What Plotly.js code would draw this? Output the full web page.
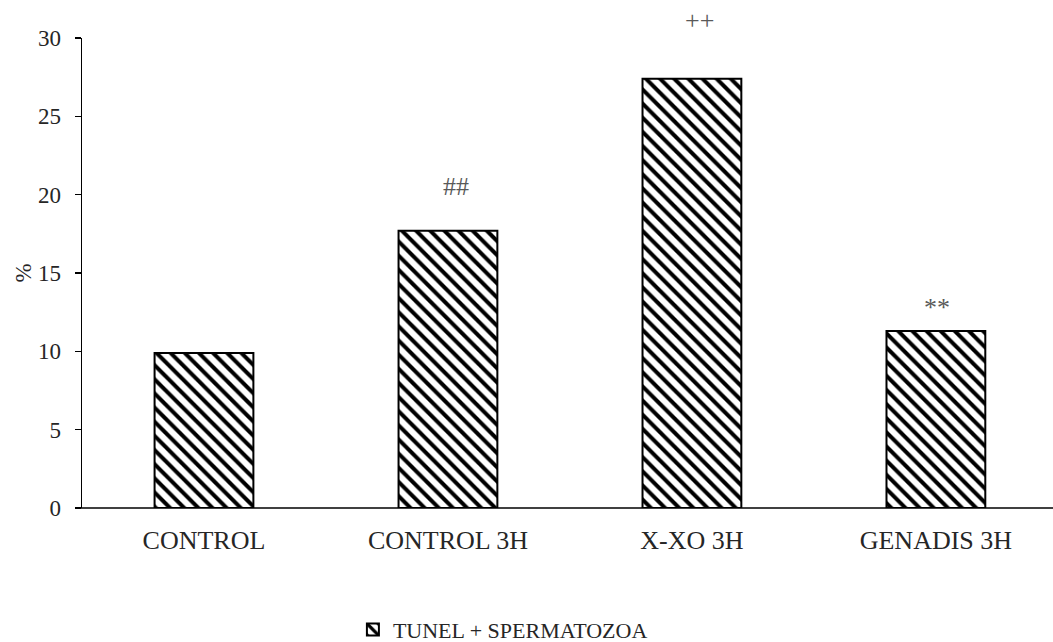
<!DOCTYPE html>
<html>
<head>
<meta charset="utf-8">
<script src="https://cdn.plot.ly/plotly-3.0.1.min.js"></script>
<style>
  html, body { margin: 0; padding: 0; background: #fff; }
  #chart { width: 1053px; height: 642px; }
</style>
</head>
<body>
<div id="chart"></div>
<script>
// Share of TUNEL-positive spermatozoa per group (%)
const groups = ["CONTROL", "CONTROL 3H", "X-XO 3H", "GENADIS 3H"];
const tunelPct = [9.9, 17.7, 27.4, 11.3];
// significance marks and the height (in %) at which each one sits
const markLabels = ["", "##", "++", "**"];
const markY = [null, 21.6, 32.2, 12.8];

const serif = "'Liberation Serif', 'DejaVu Serif', serif";
const yMax = 30;
// small horizontal nudge (px) of each mark relative to its bar
const markShift = [0, 8, 8, 1];

const trace = {
  type: "bar",
  name: "TUNEL + SPERMATOZOA",
  x: groups,
  y: tunelPct,
  width: 0.405,
  marker: {
    color: "#ffffff",
    line: { color: "#000000", width: 2 },
    pattern: { shape: "\\", fgcolor: "#000000", bgcolor: "#ffffff", size: 10, solidity: 0.4 }
  },
  hoverinfo: "skip"
};

const annotations = [];
groups.forEach((g, i) => {
  if (markLabels[i]) {
    annotations.push({
      x: g, y: markY[i] / yMax, xref: "x", yref: "paper",
      xshift: markShift[i],
      text: markLabels[i], showarrow: false,
      font: { family: serif, size: 26, color: "#595959" }
    });
  }
});

const layout = {
  width: 1053,
  height: 642,
  margin: { l: 82, r: 0, t: 38, b: 134 },
  paper_bgcolor: "#ffffff",
  plot_bgcolor: "#ffffff",
  font: { family: serif, size: 20, color: "#262626" },
  showlegend: true,
  legend: {
    orientation: "h",
    x: 0.279, xanchor: "left", xref: "paper",
    y: 0.019, yanchor: "middle", yref: "container",
    font: { family: serif, size: 22, color: "#262626" },
    itemwidth: 30
  },
  xaxis: {
    range: [-0.5, 3.48],
    showline: false,
    ticks: "", showgrid: false, zeroline: false,
    tickfont: { family: serif, size: 26, color: "#262626" },
    ticklabelstandoff: 14,
    automargin: false
  },
  yaxis: {
    range: [0, yMax],
    dtick: 5,
    showline: true, linecolor: "#000000", linewidth: 1.5,
    ticks: "outside", ticklen: 6, tickcolor: "#000000", tickwidth: 1.5,
    showgrid: false, zeroline: false,
    tickfont: { family: serif, size: 23, color: "#262626" },
    ticklabelstandoff: 9,
    automargin: false,
    title: { text: "%", font: { family: serif, size: 23, color: "#262626" }, standoff: 0 }
  },
  shapes: [
    // horizontal axis line, starting at the outer end of the y ticks
    {
      type: "line", xref: "paper", yref: "paper",
      x0: -6 / 971, x1: 1, y0: 0, y1: 0,
      line: { color: "#000000", width: 1.5 }
    }
  ],
  annotations: annotations
};

Plotly.newPlot("chart", [trace], layout, { displayModeBar: false, staticPlot: true });
</script>
</body>
</html>
